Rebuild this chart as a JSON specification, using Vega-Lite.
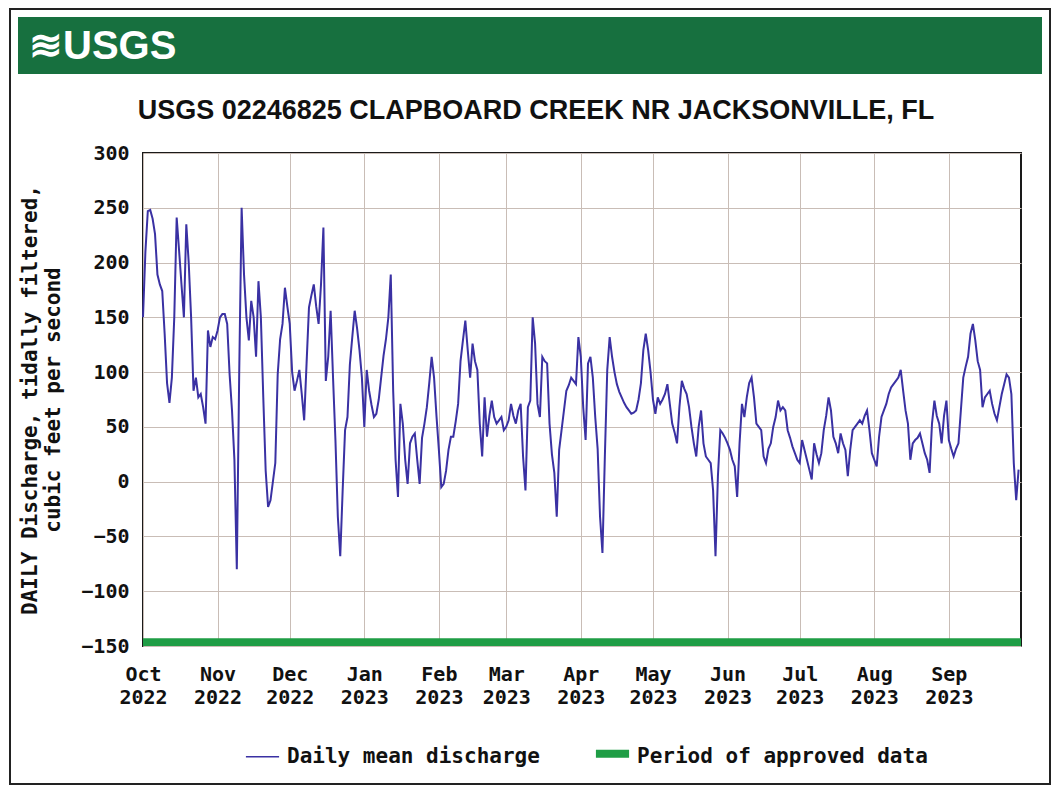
{
  "$schema": "https://vega.github.io/schema/vega-lite/v6.json",
  "background": "white",
  "padding": {"left": 9, "top": 8, "right": 5, "bottom": 2},
  "spacing": -689,
  "columns": 1,
  "align": "none",
  "config": {"view": {"stroke": "#1a1a1a", "strokeWidth": 2}},
  "resolve": {"scale": {"color": "independent"}, "legend": {"color": "independent"}},
  "concat": [
    {
      "width": 878,
      "height": 57,
      "view": {"fill": null, "stroke": null},
      "data": {"values": [{}]},
      "layer": [
        {
          "mark": {"type": "rect", "fill": null, "stroke": "#222222", "strokeWidth": 2},
          "encoding": {
            "x": {"datum": -133, "type": "quantitative", "scale": {"domain": [0, 878], "nice": false, "zero": false}, "axis": null},
            "x2": {"datum": 907},
            "y": {"datum": -8, "type": "quantitative", "scale": {"domain": [57, 0], "nice": false, "zero": false}, "axis": null},
            "y2": {"datum": 767}
          }
        },
        {
          "mark": {"type": "rect", "color": "#17703f"},
          "encoding": {
            "x": {"datum": -125, "type": "quantitative"},
            "x2": {"datum": 899},
            "y": {"datum": 0, "type": "quantitative"},
            "y2": {"datum": 57}
          }
        },
        {
          "mark": {"type": "text", "text": "≋USGS", "align": "left", "baseline": "middle", "font": "Liberation Sans", "fontSize": 40, "fontWeight": "bold", "color": "white"},
          "encoding": {
            "x": {"datum": -114, "type": "quantitative"},
            "y": {"datum": 30, "type": "quantitative"}
          }
        }
      ]
    },
    {
      "width": 878,
      "height": 493,
      "title": {"text": "USGS 02246825 CLAPBOARD CREEK NR JACKSONVILLE, FL", "font": "Liberation Sans", "fontSize": 27, "fontWeight": "bold", "color": "#111111", "anchor": "middle", "dx": -46, "baseline": "alphabetic", "offset": -3},
      "layer": [
        {
          "data": {"values": [{"start": "2022-10-01", "end": "2023-10-01"}]},
          "mark": {"type": "rect"},
          "encoding": {
            "x": {"field": "start", "type": "temporal"},
            "x2": {"field": "end"},
            "y": {"datum": -150},
            "y2": {"datum": -143},
            "color": {"datum": "Period of approved data"}
          }
        },
        {
          "data": {"values": [
            {"date":"2022-10-01","q":150},{"date":"2022-10-02","q":210},{"date":"2022-10-03","q":247},{"date":"2022-10-04","q":248},{"date":"2022-10-05","q":240},{"date":"2022-10-06","q":226},{"date":"2022-10-07","q":189},{"date":"2022-10-08","q":180},{"date":"2022-10-09","q":174},{"date":"2022-10-10","q":135},{"date":"2022-10-11","q":90},{"date":"2022-10-12","q":72},{"date":"2022-10-13","q":95},{"date":"2022-10-14","q":150},{"date":"2022-10-15","q":241},{"date":"2022-10-16","q":211},{"date":"2022-10-17","q":180},{"date":"2022-10-18","q":150},{"date":"2022-10-19","q":235},{"date":"2022-10-20","q":200},{"date":"2022-10-21","q":150},{"date":"2022-10-22","q":83},{"date":"2022-10-23","q":95},{"date":"2022-10-24","q":77},{"date":"2022-10-25","q":80},{"date":"2022-10-26","q":68},{"date":"2022-10-27","q":53},{"date":"2022-10-28","q":138},{"date":"2022-10-29","q":123},{"date":"2022-10-30","q":132},{"date":"2022-10-31","q":130},
            {"date":"2022-11-01","q":138},{"date":"2022-11-02","q":150},{"date":"2022-11-03","q":153},{"date":"2022-11-04","q":153},{"date":"2022-11-05","q":144},{"date":"2022-11-06","q":98},{"date":"2022-11-07","q":65},{"date":"2022-11-08","q":20},{"date":"2022-11-09","q":-80},{"date":"2022-11-10","q":100},{"date":"2022-11-11","q":250},{"date":"2022-11-12","q":189},{"date":"2022-11-13","q":150},{"date":"2022-11-14","q":129},{"date":"2022-11-15","q":165},{"date":"2022-11-16","q":150},{"date":"2022-11-17","q":114},{"date":"2022-11-18","q":183},{"date":"2022-11-19","q":150},{"date":"2022-11-20","q":77},{"date":"2022-11-21","q":10},{"date":"2022-11-22","q":-23},{"date":"2022-11-23","q":-17},{"date":"2022-11-24","q":0},{"date":"2022-11-25","q":17},{"date":"2022-11-26","q":98},{"date":"2022-11-27","q":130},{"date":"2022-11-28","q":144},{"date":"2022-11-29","q":177},{"date":"2022-11-30","q":160},
            {"date":"2022-12-01","q":144},{"date":"2022-12-02","q":100},{"date":"2022-12-03","q":83},{"date":"2022-12-04","q":92},{"date":"2022-12-05","q":102},{"date":"2022-12-06","q":80},{"date":"2022-12-07","q":56},{"date":"2022-12-08","q":108},{"date":"2022-12-09","q":159},{"date":"2022-12-10","q":170},{"date":"2022-12-11","q":180},{"date":"2022-12-12","q":160},{"date":"2022-12-13","q":144},{"date":"2022-12-14","q":180},{"date":"2022-12-15","q":232},{"date":"2022-12-16","q":92},{"date":"2022-12-17","q":114},{"date":"2022-12-18","q":156},{"date":"2022-12-19","q":95},{"date":"2022-12-20","q":38},{"date":"2022-12-21","q":-32},{"date":"2022-12-22","q":-68},{"date":"2022-12-23","q":-8},{"date":"2022-12-24","q":47},{"date":"2022-12-25","q":59},{"date":"2022-12-26","q":107},{"date":"2022-12-27","q":132},{"date":"2022-12-28","q":156},{"date":"2022-12-29","q":140},{"date":"2022-12-30","q":120},{"date":"2022-12-31","q":95},
            {"date":"2023-01-01","q":50},{"date":"2023-01-02","q":102},{"date":"2023-01-03","q":83},{"date":"2023-01-04","q":70},{"date":"2023-01-05","q":59},{"date":"2023-01-06","q":62},{"date":"2023-01-07","q":75},{"date":"2023-01-08","q":95},{"date":"2023-01-09","q":115},{"date":"2023-01-10","q":130},{"date":"2023-01-11","q":150},{"date":"2023-01-12","q":189},{"date":"2023-01-13","q":83},{"date":"2023-01-14","q":20},{"date":"2023-01-15","q":-14},{"date":"2023-01-16","q":71},{"date":"2023-01-17","q":53},{"date":"2023-01-18","q":20},{"date":"2023-01-19","q":-2},{"date":"2023-01-20","q":35},{"date":"2023-01-21","q":41},{"date":"2023-01-22","q":44},{"date":"2023-01-23","q":20},{"date":"2023-01-24","q":-2},{"date":"2023-01-25","q":40},{"date":"2023-01-26","q":53},{"date":"2023-01-27","q":68},{"date":"2023-01-28","q":90},{"date":"2023-01-29","q":114},{"date":"2023-01-30","q":95},{"date":"2023-01-31","q":60},
            {"date":"2023-02-01","q":29},{"date":"2023-02-02","q":-5},{"date":"2023-02-03","q":-2},{"date":"2023-02-04","q":10},{"date":"2023-02-05","q":29},{"date":"2023-02-06","q":41},{"date":"2023-02-07","q":41},{"date":"2023-02-08","q":55},{"date":"2023-02-09","q":71},{"date":"2023-02-10","q":110},{"date":"2023-02-11","q":129},{"date":"2023-02-12","q":147},{"date":"2023-02-13","q":120},{"date":"2023-02-14","q":95},{"date":"2023-02-15","q":126},{"date":"2023-02-16","q":110},{"date":"2023-02-17","q":102},{"date":"2023-02-18","q":53},{"date":"2023-02-19","q":23},{"date":"2023-02-20","q":77},{"date":"2023-02-21","q":41},{"date":"2023-02-22","q":60},{"date":"2023-02-23","q":74},{"date":"2023-02-24","q":59},{"date":"2023-02-25","q":53},{"date":"2023-02-26","q":56},{"date":"2023-02-27","q":59},{"date":"2023-02-28","q":47},
            {"date":"2023-03-01","q":50},{"date":"2023-03-02","q":56},{"date":"2023-03-03","q":71},{"date":"2023-03-04","q":60},{"date":"2023-03-05","q":53},{"date":"2023-03-06","q":65},{"date":"2023-03-07","q":71},{"date":"2023-03-08","q":23},{"date":"2023-03-09","q":-8},{"date":"2023-03-10","q":68},{"date":"2023-03-11","q":74},{"date":"2023-03-12","q":150},{"date":"2023-03-13","q":126},{"date":"2023-03-14","q":71},{"date":"2023-03-15","q":59},{"date":"2023-03-16","q":114},{"date":"2023-03-17","q":110},{"date":"2023-03-18","q":108},{"date":"2023-03-19","q":53},{"date":"2023-03-20","q":25},{"date":"2023-03-21","q":8},{"date":"2023-03-22","q":-32},{"date":"2023-03-23","q":29},{"date":"2023-03-24","q":47},{"date":"2023-03-25","q":65},{"date":"2023-03-26","q":83},{"date":"2023-03-27","q":88},{"date":"2023-03-28","q":95},{"date":"2023-03-29","q":92},{"date":"2023-03-30","q":89},{"date":"2023-03-31","q":132},
            {"date":"2023-04-01","q":114},{"date":"2023-04-02","q":68},{"date":"2023-04-03","q":38},{"date":"2023-04-04","q":108},{"date":"2023-04-05","q":114},{"date":"2023-04-06","q":95},{"date":"2023-04-07","q":59},{"date":"2023-04-08","q":30},{"date":"2023-04-09","q":-32},{"date":"2023-04-10","q":-65},{"date":"2023-04-11","q":23},{"date":"2023-04-12","q":102},{"date":"2023-04-13","q":132},{"date":"2023-04-14","q":114},{"date":"2023-04-15","q":100},{"date":"2023-04-16","q":89},{"date":"2023-04-17","q":82},{"date":"2023-04-18","q":77},{"date":"2023-04-19","q":72},{"date":"2023-04-20","q":68},{"date":"2023-04-21","q":65},{"date":"2023-04-22","q":62},{"date":"2023-04-23","q":63},{"date":"2023-04-24","q":65},{"date":"2023-04-25","q":75},{"date":"2023-04-26","q":90},{"date":"2023-04-27","q":120},{"date":"2023-04-28","q":135},{"date":"2023-04-29","q":120},{"date":"2023-04-30","q":100},
            {"date":"2023-05-01","q":75},{"date":"2023-05-02","q":62},{"date":"2023-05-03","q":77},{"date":"2023-05-04","q":71},{"date":"2023-05-05","q":75},{"date":"2023-05-06","q":80},{"date":"2023-05-07","q":89},{"date":"2023-05-08","q":71},{"date":"2023-05-09","q":53},{"date":"2023-05-10","q":45},{"date":"2023-05-11","q":35},{"date":"2023-05-12","q":68},{"date":"2023-05-13","q":92},{"date":"2023-05-14","q":85},{"date":"2023-05-15","q":80},{"date":"2023-05-16","q":68},{"date":"2023-05-17","q":50},{"date":"2023-05-18","q":35},{"date":"2023-05-19","q":23},{"date":"2023-05-20","q":50},{"date":"2023-05-21","q":65},{"date":"2023-05-22","q":35},{"date":"2023-05-23","q":23},{"date":"2023-05-24","q":20},{"date":"2023-05-25","q":17},{"date":"2023-05-26","q":-8},{"date":"2023-05-27","q":-68},{"date":"2023-05-28","q":5},{"date":"2023-05-29","q":47},{"date":"2023-05-30","q":44},{"date":"2023-05-31","q":40},
            {"date":"2023-06-01","q":35},{"date":"2023-06-02","q":29},{"date":"2023-06-03","q":20},{"date":"2023-06-04","q":14},{"date":"2023-06-05","q":-14},{"date":"2023-06-06","q":35},{"date":"2023-06-07","q":71},{"date":"2023-06-08","q":59},{"date":"2023-06-09","q":77},{"date":"2023-06-10","q":90},{"date":"2023-06-11","q":95},{"date":"2023-06-12","q":77},{"date":"2023-06-13","q":53},{"date":"2023-06-14","q":50},{"date":"2023-06-15","q":47},{"date":"2023-06-16","q":23},{"date":"2023-06-17","q":17},{"date":"2023-06-18","q":30},{"date":"2023-06-19","q":35},{"date":"2023-06-20","q":50},{"date":"2023-06-21","q":59},{"date":"2023-06-22","q":74},{"date":"2023-06-23","q":65},{"date":"2023-06-24","q":68},{"date":"2023-06-25","q":65},{"date":"2023-06-26","q":47},{"date":"2023-06-27","q":40},{"date":"2023-06-28","q":32},{"date":"2023-06-29","q":26},{"date":"2023-06-30","q":20},
            {"date":"2023-07-01","q":17},{"date":"2023-07-02","q":38},{"date":"2023-07-03","q":29},{"date":"2023-07-04","q":20},{"date":"2023-07-05","q":11},{"date":"2023-07-06","q":2},{"date":"2023-07-07","q":35},{"date":"2023-07-08","q":25},{"date":"2023-07-09","q":17},{"date":"2023-07-10","q":26},{"date":"2023-07-11","q":47},{"date":"2023-07-12","q":60},{"date":"2023-07-13","q":77},{"date":"2023-07-14","q":65},{"date":"2023-07-15","q":41},{"date":"2023-07-16","q":35},{"date":"2023-07-17","q":26},{"date":"2023-07-18","q":44},{"date":"2023-07-19","q":35},{"date":"2023-07-20","q":29},{"date":"2023-07-21","q":5},{"date":"2023-07-22","q":29},{"date":"2023-07-23","q":47},{"date":"2023-07-24","q":50},{"date":"2023-07-25","q":53},{"date":"2023-07-26","q":56},{"date":"2023-07-27","q":53},{"date":"2023-07-28","q":60},{"date":"2023-07-29","q":65},{"date":"2023-07-30","q":47},{"date":"2023-07-31","q":26},
            {"date":"2023-08-01","q":20},{"date":"2023-08-02","q":14},{"date":"2023-08-03","q":41},{"date":"2023-08-04","q":59},{"date":"2023-08-05","q":65},{"date":"2023-08-06","q":71},{"date":"2023-08-07","q":80},{"date":"2023-08-08","q":86},{"date":"2023-08-09","q":89},{"date":"2023-08-10","q":92},{"date":"2023-08-11","q":95},{"date":"2023-08-12","q":102},{"date":"2023-08-13","q":83},{"date":"2023-08-14","q":65},{"date":"2023-08-15","q":53},{"date":"2023-08-16","q":20},{"date":"2023-08-17","q":35},{"date":"2023-08-18","q":38},{"date":"2023-08-19","q":40},{"date":"2023-08-20","q":44},{"date":"2023-08-21","q":35},{"date":"2023-08-22","q":26},{"date":"2023-08-23","q":20},{"date":"2023-08-24","q":8},{"date":"2023-08-25","q":53},{"date":"2023-08-26","q":74},{"date":"2023-08-27","q":60},{"date":"2023-08-28","q":53},{"date":"2023-08-29","q":35},{"date":"2023-08-30","q":60},{"date":"2023-08-31","q":74},
            {"date":"2023-09-01","q":38},{"date":"2023-09-02","q":30},{"date":"2023-09-03","q":23},{"date":"2023-09-04","q":30},{"date":"2023-09-05","q":35},{"date":"2023-09-06","q":65},{"date":"2023-09-07","q":95},{"date":"2023-09-08","q":105},{"date":"2023-09-09","q":114},{"date":"2023-09-10","q":135},{"date":"2023-09-11","q":144},{"date":"2023-09-12","q":129},{"date":"2023-09-13","q":110},{"date":"2023-09-14","q":102},{"date":"2023-09-15","q":68},{"date":"2023-09-16","q":77},{"date":"2023-09-17","q":80},{"date":"2023-09-18","q":83},{"date":"2023-09-19","q":71},{"date":"2023-09-20","q":62},{"date":"2023-09-21","q":56},{"date":"2023-09-22","q":68},{"date":"2023-09-23","q":80},{"date":"2023-09-24","q":89},{"date":"2023-09-25","q":98},{"date":"2023-09-26","q":95},{"date":"2023-09-27","q":80},{"date":"2023-09-28","q":17},{"date":"2023-09-29","q":-17},{"date":"2023-09-30","q":11}
          ]},
          "mark": {"type": "line", "strokeWidth": 2},
          "encoding": {
            "x": {
              "field": "date", "type": "temporal",
              "scale": {"type": "utc", "domain": [{"year": 2022, "month": 10, "date": 1, "utc": true}, {"year": 2023, "month": 10, "date": 1, "utc": true}]},
              "axis": {
                "title": null,
                "values": [
                  {"year": 2022, "month": 10, "date": 1, "utc": true}, {"year": 2022, "month": 11, "date": 1, "utc": true}, {"year": 2022, "month": 12, "date": 1, "utc": true},
                  {"year": 2023, "month": 1, "date": 1, "utc": true}, {"year": 2023, "month": 2, "date": 1, "utc": true}, {"year": 2023, "month": 3, "date": 1, "utc": true},
                  {"year": 2023, "month": 4, "date": 1, "utc": true}, {"year": 2023, "month": 5, "date": 1, "utc": true}, {"year": 2023, "month": 6, "date": 1, "utc": true},
                  {"year": 2023, "month": 7, "date": 1, "utc": true}, {"year": 2023, "month": 8, "date": 1, "utc": true}, {"year": 2023, "month": 9, "date": 1, "utc": true}
                ],
                "labelExpr": "[utcFormat(datum.value, '%b'), utcFormat(datum.value, '%Y')]",
                "labelFont": "DejaVu Sans Mono", "labelFontSize": 20, "labelFontWeight": "bold", "labelColor": "#111111",
                "labelLineHeight": 23, "labelPadding": 18, "labelFlush": false, "labelOverlap": false, "labelBound": false,
                "ticks": false, "domain": false, "grid": true, "gridColor": "#c9bdb6", "gridWidth": 1
              }
            },
            "y": {
              "field": "q", "type": "quantitative",
              "scale": {"domain": [-150, 300], "nice": false, "zero": false},
              "axis": {
                "title": ["DAILY Discharge, tidally filtered,", "cubic feet per second"],
                "titleFont": "DejaVu Sans Mono", "titleFontSize": 21, "titleFontWeight": "bold", "titleColor": "#111111", "titleLineHeight": 23, "titlePadding": 17,
                "values": [-150, -100, -50, 0, 50, 100, 150, 200, 250, 300],
                "labelFont": "DejaVu Sans Mono", "labelFontSize": 20, "labelFontWeight": "bold", "labelColor": "#111111", "labelPadding": 14, "labelFlush": false,
                "ticks": false, "domain": false, "grid": true, "gridColor": "#c9bdb6", "gridWidth": 1
              }
            },
            "color": {
              "datum": "Daily mean discharge",
              "scale": {"domain": ["Daily mean discharge", "Period of approved data"], "range": ["#3a31a3", "#1f9d45"]},
              "legend": {
                "orient": "none", "legendX": 109, "legendY": 590, "direction": "horizontal", "title": null,
                "symbolType": "stroke", "symbolSize": 1100, "symbolStrokeWidth": 2,
                "labelFont": "DejaVu Sans Mono", "labelFontSize": 21, "labelFontWeight": "bold", "labelColor": "#111111",
                "labelOffset": 14, "columnPadding": 39, "labelLimit": 500,
                "encode": {
                  "symbols": {"update": {
                    "strokeWidth": {"signal": "datum.value === 'Period of approved data' ? 8 : 1.5"},
                    "stroke": {"signal": "datum.value === 'Period of approved data' ? '#1f9d45' : '#3a31a3'"},
                    "fill": {"value": "transparent"},
                    "opacity": {"value": 1}
                  }},
                  "labels": {"update": {
                    "dy": {"signal": "datum.value === 'Period of approved data' ? 3 : 0"}
                  }}
                }
              }
            }
          }
        }
      ]
    }
  ]
}
